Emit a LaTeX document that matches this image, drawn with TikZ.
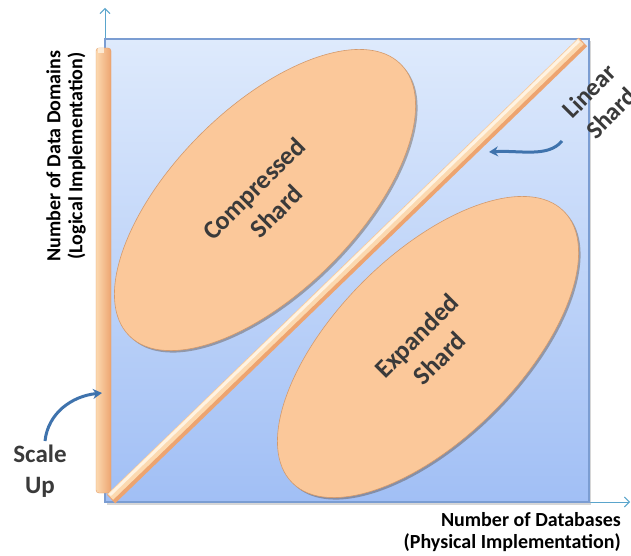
\documentclass[tikz,border=0pt]{standalone}
\usepackage{fontspec}
\setmainfont{Carlito}
\usetikzlibrary{shapes.geometric,arrows.meta,shadows,calc}

\definecolor{panelTop}{HTML}{DEEAFC}
\definecolor{panelBot}{HTML}{A1BFF5}
\definecolor{panelEdge}{HTML}{7B9DD2}
\definecolor{axisBlue}{HTML}{5AA5CC}
\definecolor{peach}{HTML}{FBC89A}
\definecolor{peachEdge}{HTML}{D49A6C}
\definecolor{peachDark}{HTML}{EDA470}
\definecolor{peachMid}{HTML}{FCD9B0}
\definecolor{peachLight}{HTML}{FFF3E2}
\definecolor{arrowBlue}{HTML}{3F73AD}
\definecolor{labelGray}{HTML}{3A3A3A}

\tikzset{
  panel/.style={rectangle, inner sep=0pt, outer sep=0pt,
    top color=panelTop, bottom color=panelBot,
    draw=panelEdge, line width=1.2pt},
  axisline/.style={draw=axisBlue, line width=0.9pt, -{Straight Barb[length=5pt,width=10pt]}},
  shard/.style={ellipse, rotate=45, inner sep=0pt,
    minimum width=384pt, minimum height=184pt,
    fill=peach, draw=peachEdge, line width=0.6pt,
    drop shadow={shadow xshift=2pt, shadow yshift=-2pt, opacity=.35, fill=black!60!brown},
    align=center, text=labelGray,
    font=\bfseries\fontsize{26}{32}\selectfont},
  axislabel/.style={inner sep=0pt, text=black, font=\bfseries\fontsize{20}{22}\selectfont},
  calloutlabel/.style={inner sep=0pt, align=center, text=labelGray,
    font=\bfseries\fontsize{25}{31}\selectfont},
  callout/.style={draw=arrowBlue, line width=3pt,
    -{Stealth[length=9pt,width=10pt]}},
  vbar/.style={rectangle, rounded corners=3pt, inner sep=0pt,
    minimum width=15pt, minimum height=445pt,
    left color=peachMid, right color=peachDark,
    draw=peachDark!80!brown, line width=0.4pt},
}

\begin{document}
\begin{tikzpicture}[x=1pt,y=-1pt]
\fill[white] (0,0) rectangle (631,556);
\useasboundingbox (0,0) rectangle (631,556);

% axes
\coordinate (origin) at (105,502);
\coordinate (ytip) at (105,8);
\coordinate (xtip) at (630,502);
\draw[axisline] (origin) -- (ytip);
\draw[axisline] (origin) -- (xtip);

% plot area with a soft shadow
\fill[black!35, opacity=.45] (107,41) rectangle (591,505);
\node[panel, minimum width=484pt, minimum height=463pt] (panel) at (347,270.5) {};

% scale-up bar along the vertical axis
\node[vbar] (scalebar) at (103.5,270.5) {};
\fill[peachLight, opacity=.8] (97.5,48.5) rectangle (104,53);

% linear shard: diagonal rod, lit from the upper left
\coordinate (d0) at (111,499);
\coordinate (d1) at (583,42);
\draw[line width=12pt, peachDark] (d0) -- (d1);
\draw[line width=8pt, peachMid, shorten <=1pt, shorten >=1pt]
  ($(d0)+(-1.4,-1.4)$) -- ($(d1)+(-1.4,-1.4)$);
\draw[line width=3pt, peachLight, shorten <=2pt, shorten >=2pt]
  ($(d0)+(-2.6,-2.6)$) -- ($(d1)+(-2.6,-2.6)$);

% shard regions
\node[shard] (compressed) at (265,200) {Compressed\\Shard};
\node[shard] (expanded) at (428,347) {Expanded\\Shard};

% axis titles
\node[axislabel, anchor=east, align=right] (xlabel) at (621,532)
  {Number of Databases\\(Physical Implementation)};
\node[axislabel, rotate=90, align=center] (ylabel) at (66,156)
  {Number of Data Domains\\(Logical Implementation)};

% callouts
\node[calloutlabel] (scaleup) at (40,471) {Scale\\Up};
\node[calloutlabel, rotate=45] (linear) at (600,102) {Linear\\Shard};

\coordinate (scaleFrom) at (45,441);
\coordinate (scaleTo) at (102,393);
\draw[callout] (scaleFrom) .. controls (48,413) and (72,396) .. (scaleTo);

\coordinate (linFrom) at (562,141);
\coordinate (linTo) at (489,152);
\draw[callout] (linFrom) .. controls (548,158) and (520,150) .. (linTo);
\end{tikzpicture}
\end{document}
